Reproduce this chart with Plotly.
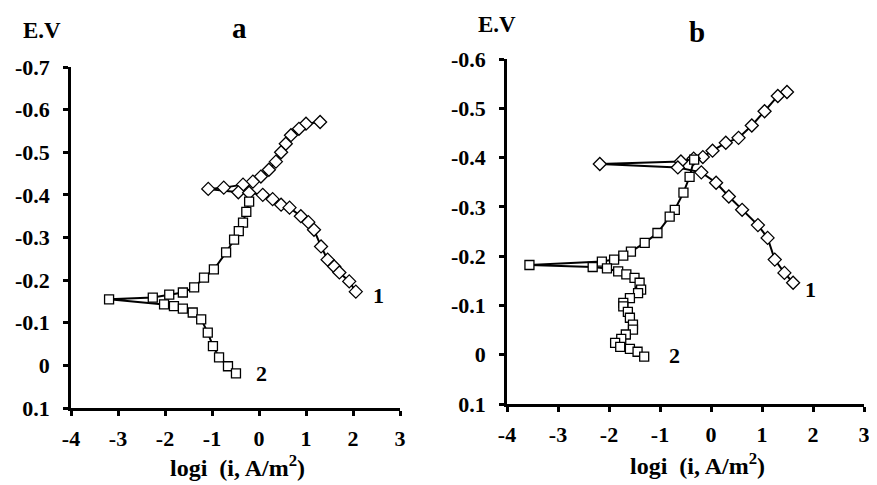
import plotly.graph_objects as go

# ---------------- data ----------------
# Panel a, curve 1 (diamonds)
a1_logi = [1.30, 1.00, 0.85, 0.68, 0.57, 0.47, 0.36, 0.21, 0.04, -0.13, -0.34, -0.75, -1.08,
           -0.44, -0.21, 0.08, 0.29, 0.47, 0.65, 0.89, 1.05, 1.17, 1.32, 1.46, 1.60, 1.71, 1.92, 2.06]
a1_E = [-0.571, -0.567, -0.555, -0.540, -0.520, -0.500, -0.478, -0.459, -0.443, -0.431, -0.424, -0.417, -0.414,
        -0.406, -0.405, -0.400, -0.390, -0.377, -0.370, -0.350, -0.336, -0.318, -0.279, -0.248, -0.232, -0.218, -0.197, -0.173]
# Panel a, curve 2 (squares)
a2_logi = [-0.21, -0.27, -0.34, -0.43, -0.53, -0.70, -0.96, -1.17, -1.38, -1.62, -1.91, -2.26, -3.19,
           -2.02, -1.81, -1.62, -1.41, -1.23, -1.09, -0.98, -0.85, -0.66, -0.49]
a2_E = [-0.384, -0.360, -0.335, -0.315, -0.295, -0.265, -0.225, -0.206, -0.183, -0.171, -0.166, -0.159, -0.155,
        -0.143, -0.139, -0.133, -0.124, -0.108, -0.077, -0.045, -0.019, 0.002, 0.019]
# Panel b, curve 1 (diamonds)
b1_logi = [1.49, 1.31, 1.05, 0.80, 0.54, 0.29, 0.03, -0.16, -0.34, -0.59, -2.18,
           -0.65, -0.19, 0.10, 0.35, 0.61, 0.92, 1.11, 1.25, 1.44, 1.61]
b1_E = [-0.533, -0.525, -0.494, -0.465, -0.440, -0.430, -0.414, -0.401, -0.398, -0.392, -0.387,
        -0.380, -0.370, -0.349, -0.321, -0.294, -0.263, -0.237, -0.193, -0.166, -0.146]
# Panel b, curve 2 (squares)
b2_logi = [-0.33, -0.42, -0.54, -0.71, -0.81, -1.05, -1.30, -1.57, -1.72, -1.90, -2.14, -3.56,
           -2.32, -2.04, -1.82, -1.66, -1.50, -1.40, -1.37, -1.43, -1.59, -1.72, -1.72, -1.63,
           -1.59, -1.53, -1.53, -1.67, -1.76, -1.88, -1.78, -1.59, -1.44, -1.31]
b2_E = [-0.396, -0.361, -0.329, -0.294, -0.280, -0.247, -0.227, -0.209, -0.201, -0.193, -0.189, -0.182,
        -0.178, -0.175, -0.169, -0.163, -0.156, -0.146, -0.132, -0.125, -0.115, -0.105, -0.098, -0.087,
        -0.075, -0.061, -0.051, -0.041, -0.032, -0.024, -0.016, -0.012, -0.006, 0.004]

x_ticks = [-4, -3, -2, -1, 0, 1, 2, 3]
x_labels = ["-4", "-3", "-2", "-1", "0", "1", "2", "3"]
ya_ticks = [-0.7, -0.6, -0.5, -0.4, -0.3, -0.2, -0.1, 0, 0.1]
ya_labels = ["-0.7", "-0.6", "-0.5", "-0.4", "-0.3", "-0.2", "-0.1", "0", "0.1"]
yb_ticks = [-0.6, -0.5, -0.4, -0.3, -0.2, -0.1, 0, 0.1]
yb_labels = ["-0.6", "-0.5", "-0.4", "-0.3", "-0.2", "-0.1", "0", "0.1"]

FONT = "Liberation Serif"

fig = go.Figure()

def add(xs, ys, symbol, xa, ya):
    fig.add_trace(go.Scatter(
        x=xs, y=ys, mode="lines+markers", xaxis=xa, yaxis=ya,
        line=dict(color="black", width=2),
        marker=dict(symbol=symbol, size=10 if symbol == "diamond" else 9,
                    color="white", line=dict(color="black", width=1.3)),
        showlegend=False))

add(a1_logi, a1_E, "diamond", "x", "y")
add(a2_logi, a2_E, "square", "x", "y")
add(b1_logi, b1_E, "diamond", "x2", "y2")
add(b2_logi, b2_E, "square", "x2", "y2")

# page has an 8px body margin: size the figure to fit the visible window
OFF = 8
W, H = 877 - OFF, 485 - OFF
def px(v):
    return (v - OFF) / W
def py(v):
    return 1 - (v - OFF) / H

def bold(lst):
    return [f"<b>{s}</b>" for s in lst]

axis_common = dict(showgrid=False, zeroline=False, showline=True, linecolor="black",
                   linewidth=2.5, ticks="outside", tickcolor="black", ticklen=5, tickwidth=2.5,
                   automargin=False,
                   tickfont=dict(family=FONT, size=22, color="black", weight="bold"))

fig.update_layout(
    width=W, height=H,
    margin=dict(l=0, r=0, t=0, b=0),
    paper_bgcolor="white", plot_bgcolor="white",
    font=dict(family=FONT, color="black"),
    xaxis=dict(domain=[px(71), px(400)], range=[-4, 3], tickvals=x_ticks, ticktext=bold(x_labels),
               anchor="y", ticklabelstandoff=4, **axis_common),
    yaxis=dict(domain=[py(408), py(67)], range=[0.1, -0.7], tickvals=ya_ticks, ticktext=bold(ya_labels),
               anchor="x", ticklabelstandoff=9, **axis_common),
    xaxis2=dict(domain=[px(507), px(864)], range=[-4, 3], tickvals=x_ticks, ticktext=bold(x_labels),
                anchor="y2", ticklabelstandoff=4, **axis_common),
    yaxis2=dict(domain=[py(404), py(59)], range=[0.1, -0.6], tickvals=yb_ticks, ticktext=bold(yb_labels),
                anchor="x2", ticklabelstandoff=9, **axis_common),
)

def note(text, x, y, size, xref="paper", yref="paper"):
    fig.add_annotation(text=f"<b>{text}</b>", x=x, y=y, xref=xref, yref=yref,
                       showarrow=False,
                       font=dict(family=FONT, size=size, color="black", weight="bold"),
                       xanchor="center", yanchor="middle")

note("E.V", px(42), py(30), 23)
note("E.V", px(497), py(25), 23)
note("a", px(240), py(28), 29)
note("b", px(697), py(32), 29)
note("logi&nbsp;&nbsp;(i, A/m<sup>2</sup>)", px(237), py(466), 24)
note("logi&nbsp;&nbsp;(i, A/m<sup>2</sup>)", px(697), py(464), 24)
note("1", 2.55, -0.165, 22, "x", "y")
note("2", 0.05, 0.020, 22, "x", "y")
note("1", 1.95, -0.132, 22, "x2", "y2")
note("2", -0.72, 0.002, 22, "x2", "y2")

fig.write_html("out.html")
